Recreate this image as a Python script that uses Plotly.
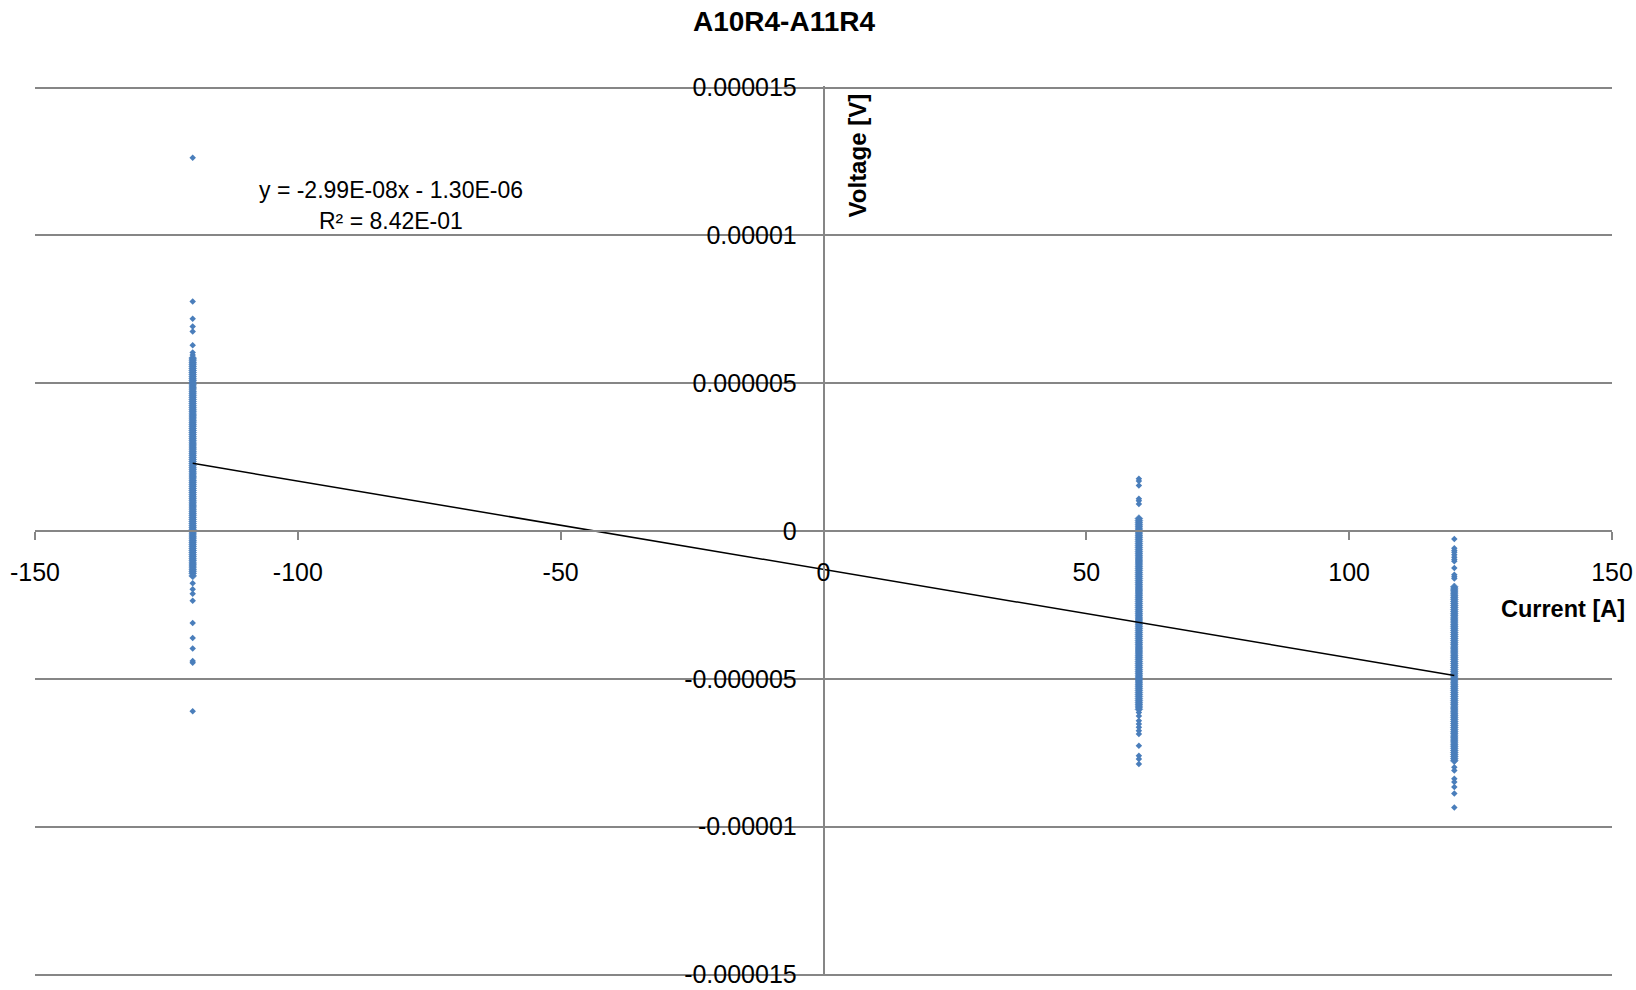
import numpy as np
import plotly.graph_objects as go

UV = 1e-6  # values below are listed in microvolts

# x = -120 A : isolated readings and the dense band
current_neg120 = -120
sparse_neg120_uV = [12.62, 7.76, 7.18, 6.92, 6.75, 6.28, 6.04, 5.95,
                    -1.77, -1.97, -2.12, -2.36, -3.11, -3.62, -3.97, -4.40, -4.46, -6.10]
dense_neg120_uV = [
    5.85, 5.78, 5.71, 5.64, 5.57, 5.50, 5.43, 5.36, 5.29, 5.22, 5.15, 5.08, 5.01,
    4.94, 4.87, 4.80, 4.73, 4.66, 4.59, 4.52, 4.45, 4.38, 4.31, 4.24, 4.17, 4.10,
    4.03, 3.96, 3.89, 3.82, 3.75, 3.68, 3.61, 3.54, 3.47, 3.40, 3.33, 3.26, 3.19,
    3.12, 3.05, 2.98, 2.91, 2.84, 2.77, 2.70, 2.63, 2.56, 2.49, 2.42, 2.35, 2.28,
    2.21, 2.14, 2.07, 2.00, 1.93, 1.86, 1.79, 1.72, 1.65, 1.58, 1.51, 1.44, 1.37,
    1.30, 1.23, 1.16, 1.09, 1.02, 0.95, 0.88, 0.81, 0.74, 0.67, 0.60, 0.53, 0.46,
    0.39, 0.32, 0.25, 0.18, 0.11, 0.04, -0.03, -0.10, -0.17, -0.24, -0.31, -0.38,
    -0.45, -0.52, -0.59, -0.66, -0.73, -0.80, -0.87, -0.94, -1.01, -1.08, -1.15,
    -1.22, -1.29, -1.36, -1.43, -1.52,
]

# x = 60 A
current_60 = 60
sparse_60_uV = [1.77, 1.69, 1.54, 1.09, 1.02, 0.91,
                -6.14, -6.26, -6.42, -6.53, -6.64, -6.76, -6.87, -7.26, -7.60, -7.71, -7.88]
dense_60_uV = [
    0.42, 0.35, 0.28, 0.21, 0.14, 0.07, 0.00, -0.07, -0.14, -0.21, -0.28, -0.35,
    -0.42, -0.49, -0.56, -0.63, -0.70, -0.77, -0.84, -0.91, -0.98, -1.05, -1.12,
    -1.19, -1.26, -1.33, -1.40, -1.47, -1.54, -1.61, -1.68, -1.75, -1.82, -1.89,
    -1.96, -2.03, -2.10, -2.17, -2.24, -2.31, -2.38, -2.45, -2.52, -2.59, -2.66,
    -2.73, -2.80, -2.87, -2.94, -3.01, -3.08, -3.15, -3.22, -3.29, -3.36, -3.43,
    -3.50, -3.57, -3.64, -3.71, -3.78, -3.85, -3.92, -3.99, -4.06, -4.13, -4.20,
    -4.27, -4.34, -4.41, -4.48, -4.55, -4.62, -4.69, -4.76, -4.83, -4.90, -4.97,
    -5.04, -5.11, -5.18, -5.25, -5.32, -5.39, -5.46, -5.53, -5.60, -5.67, -5.74,
    -5.81, -5.88, -5.95, -6.03,
]

# x = 120 A
current_120 = 120
sparse_120_uV = [-0.27, -0.58, -0.66, -0.72, -0.80, -0.89, -0.96, -1.02, -1.25, -1.48, -1.55, -1.61,
                 -7.99, -8.10, -8.38, -8.49, -8.66, -8.88, -9.35]
dense_120_uV = [
    -1.89, -1.96, -2.03, -2.10, -2.17, -2.24, -2.31, -2.38, -2.45, -2.52, -2.59,
    -2.66, -2.73, -2.80, -2.87, -2.94, -3.01, -3.08, -3.15, -3.22, -3.29, -3.36,
    -3.43, -3.50, -3.57, -3.64, -3.71, -3.78, -3.85, -3.92, -3.99, -4.06, -4.13,
    -4.20, -4.27, -4.34, -4.41, -4.48, -4.55, -4.62, -4.69, -4.76, -4.83, -4.90,
    -4.97, -5.04, -5.11, -5.18, -5.25, -5.32, -5.39, -5.46, -5.53, -5.60, -5.67,
    -5.74, -5.81, -5.88, -5.95, -6.02, -6.09, -6.16, -6.23, -6.30, -6.37, -6.44,
    -6.51, -6.58, -6.65, -6.72, -6.79, -6.86, -6.93, -7.00, -7.07, -7.14, -7.21,
    -7.28, -7.35, -7.42, -7.49, -7.56, -7.63, -7.70, -7.77,
]

trend_slope = -2.99e-08
trend_intercept = -1.30e-06
trend_r2 = 8.42e-01

x_tick_vals = [-150, -100, -50, 0, 50, 100, 150]
x_tick_text = ["-150", "-100", "-50", "0", "50", "100", "150"]
y_tick_vals = [0.000015, 0.00001, 0.000005, 0, -0.000005, -0.00001, -0.000015]
y_tick_text = ["0.000015", "0.00001", "0.000005", "0", "-0.000005", "-0.00001", "-0.000015"]

title_text = "A10R4-A11R4"
x_title = "Current [A]"
y_title = "Voltage [V]"


def column(x, vals_uV):
    return [x] * len(vals_uV), list(np.array(vals_uV) * UV)


sx1, sy1 = column(current_neg120, sparse_neg120_uV)
sx2, sy2 = column(current_60, sparse_60_uV)
sx3, sy3 = column(current_120, sparse_120_uV)
dx1, dy1 = column(current_neg120, dense_neg120_uV)
dx2, dy2 = column(current_60, dense_60_uV)
dx3, dy3 = column(current_120, dense_120_uV)

FONT = "Liberation Sans"
GRID = "#868686"
BLUE = "#4A7EBB"

fig = go.Figure()
fig.add_trace(go.Scatter(
    x=dx1 + dx2 + dx3, y=dy1 + dy2 + dy3, mode="markers",
    marker=dict(symbol="diamond", size=6, color=BLUE, line=dict(width=0.6, color=BLUE)),
    hoverinfo="skip", showlegend=False,
))
fig.add_trace(go.Scatter(
    x=sx1 + sx2 + sx3, y=sy1 + sy2 + sy3, mode="markers",
    marker=dict(symbol="diamond", size=5, color=BLUE, line=dict(width=0)),
    hoverinfo="skip", showlegend=False,
))
all_x = sx1 + sx2 + sx3 + dx1 + dx2 + dx3
tx = np.array([min(all_x), max(all_x)])
fig.add_trace(go.Scatter(
    x=tx, y=trend_slope * tx + trend_intercept, mode="lines",
    line=dict(color="black", width=1.5), hoverinfo="skip", showlegend=False,
))

# plot area in page pixels
M_L, M_R, M_T, M_B = 35, 24, 85.5, 13.5
PW, PH = 1636 - M_L - M_R, 990 - M_T - M_B


def px(xp):
    return (xp - M_L) / PW


def py(yp):
    return (990 - M_B - yp) / PH


pad = 1.5 * 3e-5 / (PH - 3)
fig.update_layout(
    width=1636, height=990,
    margin=dict(l=M_L, r=M_R, t=M_T, b=M_B, autoexpand=False),
    paper_bgcolor="white", plot_bgcolor="white",
    font=dict(family=FONT, size=25, color="black"),
    title=dict(text=title_text, x=784 / 1636, xanchor="center", xref="container",
               y=1 - 21 / 990, yanchor="middle",
               font=dict(family=FONT, size=28, color="black", weight="bold")),
    xaxis=dict(
        range=[-150, 150], tickvals=x_tick_vals, ticktext=x_tick_text,
        showgrid=False, zeroline=False, showline=True, linecolor=GRID, linewidth=1.5,
        anchor="free", position=0.5, ticks="outside", ticklen=8, tickcolor=GRID,
        tickwidth=1.5, ticklabelstandoff=11, tickfont=dict(size=25),
        ticklabeloverflow="allow", automargin=False,
    ),
    yaxis=dict(
        range=[-0.000015 - pad, 0.000015 + pad], tickvals=y_tick_vals, ticktext=y_tick_text,
        showgrid=True, gridcolor=GRID, gridwidth=1.5, zeroline=False,
        showline=True, linecolor=GRID, linewidth=1.5,
        anchor="free", position=0.5, ticks="outside", ticklen=6, tickcolor=GRID,
        tickwidth=1.5, ticklabelstandoff=15, tickfont=dict(size=25),
        ticklabeloverflow="allow", automargin=False,
    ),
)

eq_text = "y = %.2Ex - %.2E" % (trend_slope, abs(trend_intercept))
r2_text = "R² = %.2E" % trend_r2
fig.add_annotation(text=eq_text, xref="paper", yref="paper",
                   x=px(391), y=py(190), xanchor="center", yanchor="middle",
                   showarrow=False, font=dict(family=FONT, size=23, color="black"))
fig.add_annotation(text=r2_text, xref="paper", yref="paper",
                   x=px(391), y=py(221), xanchor="center", yanchor="middle",
                   showarrow=False, font=dict(family=FONT, size=23, color="black"))
fig.add_annotation(text=y_title, xref="paper", yref="paper", textangle=-90,
                   x=px(857), y=py(155), xanchor="center", yanchor="middle",
                   showarrow=False, font=dict(family=FONT, size=24, color="black", weight="bold"))
fig.add_annotation(text=x_title, xref="paper", yref="paper",
                   x=px(1563), y=py(609), xanchor="center", yanchor="middle",
                   showarrow=False, font=dict(family=FONT, size=23.5, color="black", weight="bold"))

fig.write_html("out.html", config={"displayModeBar": False},
               post_script="document.body.style.margin='0px';")
